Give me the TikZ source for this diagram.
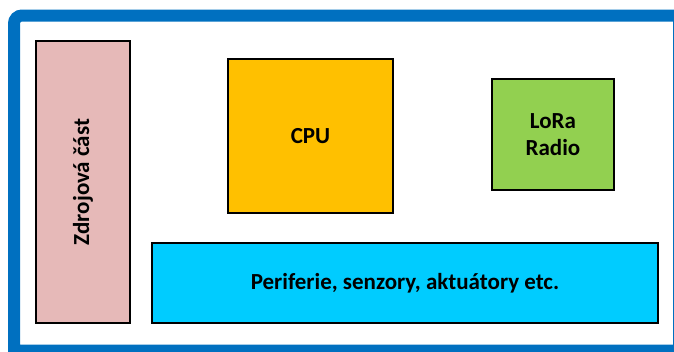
\documentclass[tikz,border=0pt]{standalone}
\usepackage{fontspec}
\setmainfont{Carlito}
\definecolor{frameblue}{HTML}{0070C0}
\definecolor{powerpink}{HTML}{E6B9B8}
\definecolor{cpuorange}{HTML}{FFC000}
\definecolor{radiogreen}{HTML}{92D050}
\definecolor{periphcyan}{HTML}{00CCFF}
\begin{document}
\begin{tikzpicture}[x=1pt, y=-1pt]
	\tikzstyle{block} = [draw=black, line width=2pt, inner sep=0pt, align=center, font=\bfseries\fontsize{23}{27}\selectfont]

	\useasboundingbox (0,0) rectangle (674,351);
	\clip (0,0) rectangle (674,351);
	\draw[frameblue, line width=12pt] (679,350.5) -- (14,350.5) [rounded corners=8pt] -- (14,15.5) [sharp corners] -- (679,15.5) -- cycle;

	\node[block, fill=powerpink, rotate=90, minimum width=282pt, minimum height=94pt] (power) at (83,182) {Zdrojová část};
	\node[block, fill=cpuorange, minimum width=165pt, minimum height=154pt] (cpu) at (310.5,136) {CPU};
	\node[block, fill=radiogreen, minimum width=122pt, minimum height=111pt] (radio) at (553,134.5) {LoRa\\Radio};
	\node[block, fill=periphcyan, minimum width=506pt, minimum height=80pt] (periph) at (405,283) {Periferie, senzory, aktuátory etc.};
\end{tikzpicture}
\end{document}
